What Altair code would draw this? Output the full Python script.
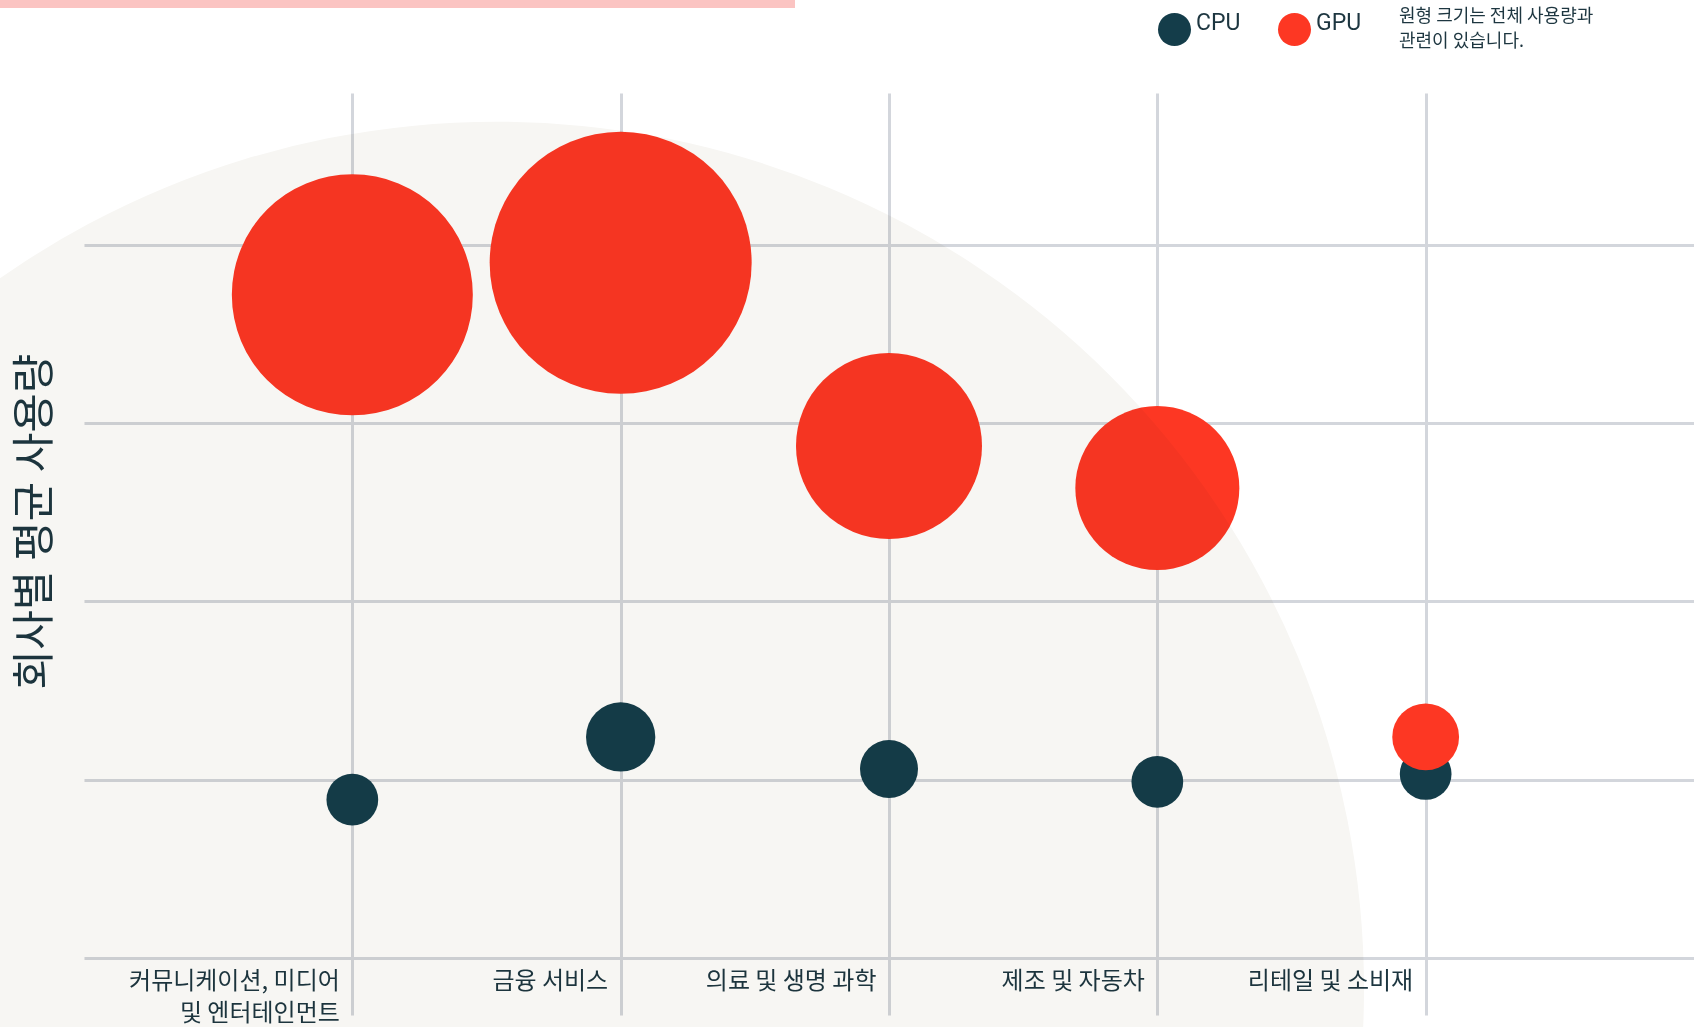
import altair as alt
import pandas as pd

# ---- data ----
categories = [
    "커뮤니케이션, 미디어\n및 엔터테인먼트",
    "금융 서비스",
    "의료 및 생명 과학",
    "제조 및 자동차",
    "리테일 및 소비재",
]
series = ["CPU", "GPU"]
cpu_avg = [22.2, 31.0, 26.5, 24.7, 25.8]      # average usage per company
gpu_avg = [93.0, 97.5, 71.8, 65.9, 31.0]
cpu_total = [3.9, 7.0, 4.9, 3.9, 3.9]         # total usage (bubble area)
gpu_total = [84.6, 100.0, 50.4, 39.2, 6.5]
grid_values = [0, 25, 50, 75, 100]
y_title = "회사별 평균 사용량"
note_lines = ["원형 크기는 전체 사용량과", "관련이 있습니다."]

colors = ["#143d4a", "#fd3723"]
text_color = "#1d3640"
grid_color = "#d3d6dc"
kr_font = "Noto Sans CJK KR"

rows = []
for c, a, t in zip(categories, cpu_avg, cpu_total):
    rows.append({"category": c, "type": "CPU", "avg": a, "total": t})
for c, a, t in zip(categories, gpu_avg, gpu_total):
    rows.append({"category": c, "type": "GPU", "avg": a, "total": t})
df = pd.DataFrame(rows)
df["order"] = range(len(df))

W, H = 1610, 922

x_enc = alt.X(
    "category:N",
    sort=None,
    scale=alt.Scale(type="point", domain=categories, padding=1),
    axis=alt.Axis(
        title=None, domain=False, ticks=False, tickSize=0,
        grid=True, gridColor=grid_color, gridWidth=3,
        labelExpr="split(datum.label, '\\n')",
        labelAngle=0, labelAlign="right", labelBaseline="top",
        labelPadding=-46, labelOffset=-13,
        labelFont=kr_font, labelFontSize=24, labelLineHeight=32,
        labelColor=text_color, labelOverlap=False, labelLimit=0,
    ),
)
y_enc = alt.Y(
    "avg:Q",
    scale=alt.Scale(domain=[-8.0, 121.3], nice=False, zero=False),
    axis=alt.Axis(
        title=y_title, values=grid_values, labels=False, ticks=False,
        tickSize=0, domain=False, grid=True, gridColor=grid_color,
        gridWidth=3, minExtent=0,
        titleFont=kr_font, titleFontSize=43, titleFontWeight="normal",
        titleColor=text_color, titlePadding=27, titleY=428,
        titleAlign="center",
    ),
)

# Vega circle: radius = sqrt(size) / 2  -> size = (2r)^2
points = alt.Chart(df).mark_circle(opacity=1, strokeWidth=0).encode(
    x=x_enc,
    y=y_enc,
    size=alt.Size("total:Q", scale=alt.Scale(domain=[0, 100], range=[0, 68644]), legend=None),
    color=alt.Color(
        "type:N",
        scale=alt.Scale(domain=series, range=colors),
        legend=alt.Legend(
            orient="none", legendX=1074, legendY=-80, direction="horizontal",
            title=note_lines, titleOrient="right", titleFont=kr_font,
            titleFontSize=18, titleFontWeight="normal", titleColor=text_color,
            titleLineHeight=25, titlePadding=38, titleBaseline="middle",
            titleLimit=500,
            labelFont="Roboto", labelFontSize=23, labelColor=text_color,
            labelOffset=5, labelBaseline="alphabetic",
            symbolType="circle", symbolSize=1089, symbolStrokeWidth=0,
            symbolOpacity=1, columnPadding=37, padding=0,
        ),
    ),
    order=alt.Order("order:Q"),
)

# decorative beige disc (multiplied over everything)
disc = alt.Chart(pd.DataFrame({"k": [0]})).mark_circle(
    color="#f7f6f3", opacity=1, size=3006756, blend="multiply"
).encode(x=alt.value(413), y=alt.value(896))

# decorative pink strip at the top
strip = alt.Chart(pd.DataFrame({"k": [0]})).mark_rect(color="#fbc4c2").encode(
    x=alt.value(-84), x2=alt.value(711), y=alt.value(-93), y2=alt.value(-85)
)

chart = alt.layer(points, disc, strip).properties(
    width=W, height=H,
    padding={"left": 84, "top": 93, "right": 0, "bottom": 12},
    autosize=alt.AutoSizeParams(type="none"),
    background="white",
).configure_view(stroke=None)

chart.save("out.html", embed_options={"renderer": "svg", "actions": False})
